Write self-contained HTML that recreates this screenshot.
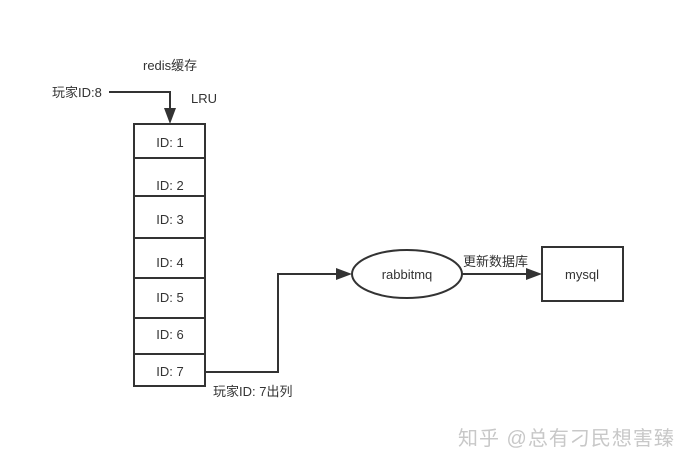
<!DOCTYPE html>
<html><head><meta charset="utf-8"><style>
body{margin:0;background:#fff;}
svg text{font-family:"Liberation Sans","Noto Sans CJK SC",sans-serif;font-size:13px;fill:#333;}
</style></head><body>
<svg width="685" height="467" xmlns="http://www.w3.org/2000/svg">
<rect width="685" height="467" fill="#fff"/>
<text x="143" y="70">redis缓存</text>
<text x="52" y="97">玩家ID:8</text>
<text x="191" y="103">LRU</text>
<polyline points="109,92 170,92 170,110" fill="none" stroke="#333" stroke-width="2"/>
<polygon points="164,108 176,108 170,124" fill="#333"/>
<g fill="none" stroke="#333" stroke-width="2">
<rect x="134" y="124" width="71" height="262"/>
<line x1="134" y1="158" x2="205" y2="158"/>
<line x1="134" y1="196" x2="205" y2="196"/>
<line x1="134" y1="238" x2="205" y2="238"/>
<line x1="134" y1="278" x2="205" y2="278"/>
<line x1="134" y1="318" x2="205" y2="318"/>
<line x1="134" y1="354" x2="205" y2="354"/>
</g>
<g text-anchor="middle">
<text x="170" y="147">ID: 1</text>
<text x="170" y="190">ID: 2</text>
<text x="170" y="224">ID: 3</text>
<text x="170" y="267">ID: 4</text>
<text x="170" y="302">ID: 5</text>
<text x="170" y="339">ID: 6</text>
<text x="170" y="376">ID: 7</text>
</g>
<polyline points="205,372 278,372 278,274 338,274" fill="none" stroke="#333" stroke-width="2"/>
<polygon points="336,268 352,274 336,280" fill="#333"/>
<text x="213" y="396">玩家ID: 7出列</text>
<ellipse cx="407" cy="274" rx="55" ry="24" fill="none" stroke="#333" stroke-width="2"/>
<text x="407" y="279" text-anchor="middle">rabbitmq</text>
<line x1="462" y1="274" x2="528" y2="274" stroke="#333" stroke-width="2"/>
<polygon points="526,268 542,274 526,280" fill="#333"/>
<text x="463" y="266">更新数据库</text>
<rect x="542" y="247" width="81" height="54" fill="none" stroke="#333" stroke-width="2"/>
<text x="582" y="279" text-anchor="middle">mysql</text>
<text x="458" y="445" style="font-size:20px;letter-spacing:1px;fill:#c8c8c8">知乎 @总有刁民想害臻</text>
</svg>
</body></html>
